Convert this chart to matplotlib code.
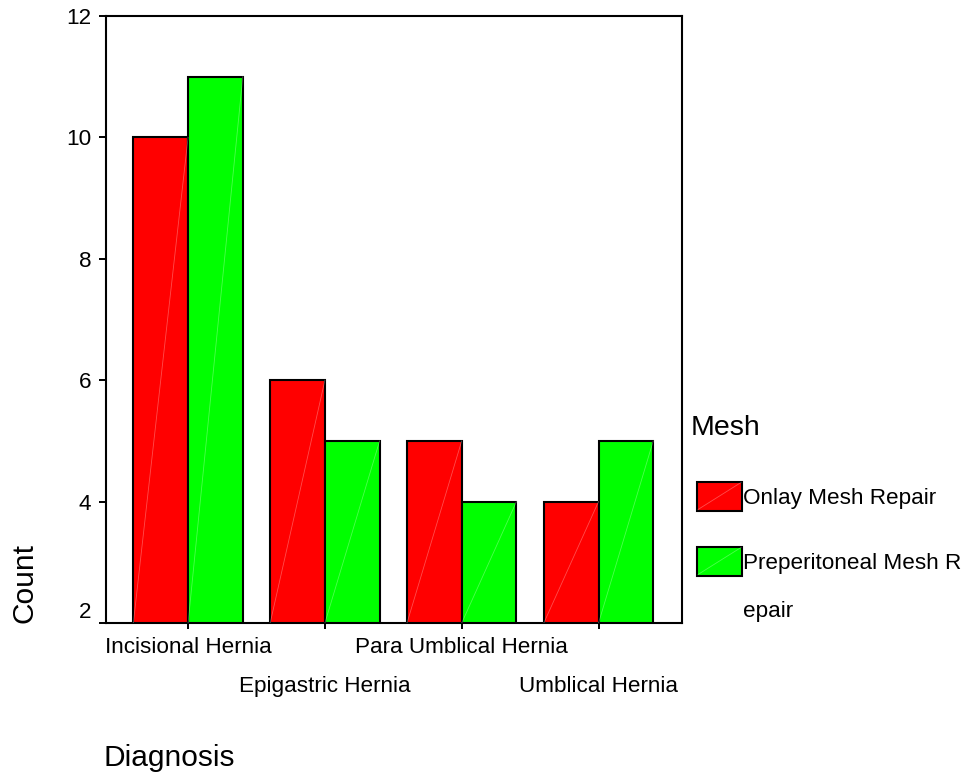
#!/usr/bin/env python3
import numpy as np
import matplotlib
matplotlib.use('Agg')
import matplotlib.pyplot as plt
from matplotlib.patches import Rectangle

plt.rcParams['font.family'] = ['Liberation Sans', 'DejaVu Sans']

# data
diagnosis = ['Incisional Hernia', 'Epigastric Hernia',
             'Para Umblical Hernia', 'Umblical Hernia']
onlay = [10, 6, 5, 4]
preperitoneal = [11, 5, 4, 5]
series_names = ['Onlay Mesh Repair', 'Preperitoneal Mesh R\nepair']
series_colors = ['#ff0000', '#00ff00']
yticks = [2, 4, 6, 8, 10, 12]

W, H = 970, 781
TICK_FS = 16.2
TITLE_FS = 21.5


def fx(px):
    return px / W


def fy(py):
    return 1 - py / H


fig = plt.figure(figsize=(9.7, 7.81), dpi=100)
ax = fig.add_axes([fx(106), fy(623), fx(682) - fx(106), fy(16) - fy(623)])

x = np.arange(len(diagnosis))
width = 0.40
ymin = yticks[0]
for k, (vals, color) in enumerate(zip([onlay, preperitoneal], series_colors)):
    xs = x + (k - 0.5) * width
    ax.bar(xs, vals, width=width, color=color, edgecolor='black',
           linewidth=1.5, zorder=2)
    # faint diagonal seam seen inside every bar
    for xi, v in zip(xs, vals):
        ax.plot([xi - width / 2, xi + width / 2], [ymin, v], color='white',
                alpha=0.3, linewidth=0.6, zorder=3)

ax.set_xlim(-0.6, 3.61)
ax.set_ylim(ymin, yticks[-1])
ax.set_yticks(yticks)
ax.set_yticklabels([str(t) for t in yticks], fontsize=TICK_FS)
ax.get_yticklabels()[0].set_va('bottom')
ax.set_xticks(x)
ax.set_xticklabels(diagnosis, fontsize=TICK_FS)
ax.tick_params(axis='y', direction='out', length=5, width=1.4, pad=5.5)
ax.tick_params(axis='x', direction='out', length=4.5, width=1.4, pad=5.5)
for i, tick in enumerate(ax.xaxis.get_major_ticks()):
    if i % 2 == 1:
        tick.set_pad(5.5 + 28.5)
for s in ax.spines.values():
    s.set_linewidth(1.5)

ax.set_xlabel('Diagnosis', fontsize=TITLE_FS, loc='left', va='center')
ax.xaxis.set_label_coords(-0.004, -135 / 607)
ax.set_ylabel('Count', fontsize=TITLE_FS, loc='bottom', va='center')
ax.yaxis.set_label_coords(-(106 - 24) / 576, 0)

# legend drawn by hand to mimic the SPSS layout
fig.text(fx(691), fy(428), 'Mesh', fontsize=20.5, va='center', ha='left')
row_centers = [496, 561]
for name, color, yc in zip(series_names, series_colors, row_centers):
    fig.patches.append(Rectangle((fx(697), fy(yc + 14.5)), fx(45), 29 / H,
                                 facecolor=color, edgecolor='black',
                                 linewidth=1.5, transform=fig.transFigure))
    fig.lines.append(plt.Line2D([fx(698), fx(741)], [fy(yc + 13.5), fy(yc - 13.5)],
                                color='white', alpha=0.3, linewidth=0.6,
                                transform=fig.transFigure))
    fig.text(fx(743), fy(yc - 8), name, fontsize=TICK_FS, va='top',
             ha='left', linespacing=2.7)

fig.savefig('out.png', dpi=100)
